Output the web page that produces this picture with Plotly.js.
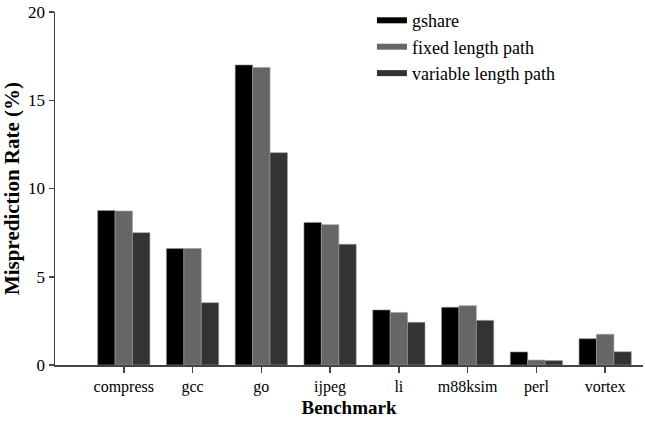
<!DOCTYPE html>
<html>
<head>
<meta charset="utf-8">
<script src="https://cdn.plot.ly/plotly-3.0.1.min.js"></script>
<style>html,body{margin:0;padding:0;background:#fff;}#chart{width:645px;height:423px;}</style>
</head>
<body>
<div id="chart"></div>
<script>
const categories = ["compress", "gcc", "go", "ijpeg", "li", "m88ksim", "perl", "vortex"];
const seriesNames = ["gshare", "fixed length path", "variable length path"];
const gshare = [8.75, 6.6, 17.0, 8.08, 3.12, 3.27, 0.74, 1.49];
const fixedPath = [8.72, 6.6, 16.86, 7.95, 2.98, 3.36, 0.28, 1.74];
const variablePath = [7.5, 3.53, 12.03, 6.84, 2.42, 2.53, 0.25, 0.75];
const yTicks = [0, 5, 10, 15, 20];

const colors = ["#000000", "#666666", "#333333"];
const values = [gshare, fixedPath, variablePath];
const FONT = "Liberation Serif";

const traces = [];
values.forEach((v, i) => {
  traces.push({
    type: "bar", x: categories, y: v, name: seriesNames[i],
    marker: {color: colors[i], line: {color: "#9a9a9a", width: 0.6}},
    showlegend: false, hoverinfo: "x+y"
  });
});
values.forEach((v, i) => {
  traces.push({
    type: "scatter", mode: "lines", x: [null], y: [null], name: seriesNames[i],
    line: {color: colors[i], width: 6}, legendgroup: "g" + i, showlegend: true
  });
});

const layout = {
  width: 645, height: 423,
  margin: {l: 55, r: 2, t: 12, b: 58},
  paper_bgcolor: "#fff", plot_bgcolor: "#fff",
  barmode: "group", bargap: 0.24, bargroupgap: 0,
  font: {family: FONT, color: "#000"},
  xaxis: {
    type: "category", range: [-1, 7.55],
    showline: true, linecolor: "#444", linewidth: 1.5,
    ticks: "outside", ticklen: 6, tickcolor: "#444", tickwidth: 1.5,
    tickfont: {family: FONT, size: 16, color: "#000"},
    showgrid: false, zeroline: false,
    title: {text: "<b>Benchmark</b>", font: {family: FONT, size: 19, color: "#000"}, standoff: 6}
  },
  yaxis: {
    range: [0, 20], tickvals: yTicks, ticktext: yTicks.map(String),
    showline: true, linecolor: "#444", linewidth: 1.5,
    ticks: "outside", ticklen: 5, tickcolor: "#444", tickwidth: 1.5,
    tickfont: {family: FONT, size: 17, color: "#000"},
    showgrid: false, zeroline: false,
    title: {text: "<b>Misprediction Rate (%)</b>", font: {family: FONT, size: 21, color: "#000"}, standoff: 2}
  },
  legend: {
    x: 0.539, xanchor: "left", y: 1.028, yanchor: "top",
    font: {family: FONT, size: 18, color: "#000"},
    traceorder: "grouped", tracegroupgap: 0,
    bgcolor: "rgba(0,0,0,0)", borderwidth: 0
  },
  showlegend: true
};

Plotly.newPlot("chart", traces, layout, {displayModeBar: false, staticPlot: true});
</script>
</body>
</html>
